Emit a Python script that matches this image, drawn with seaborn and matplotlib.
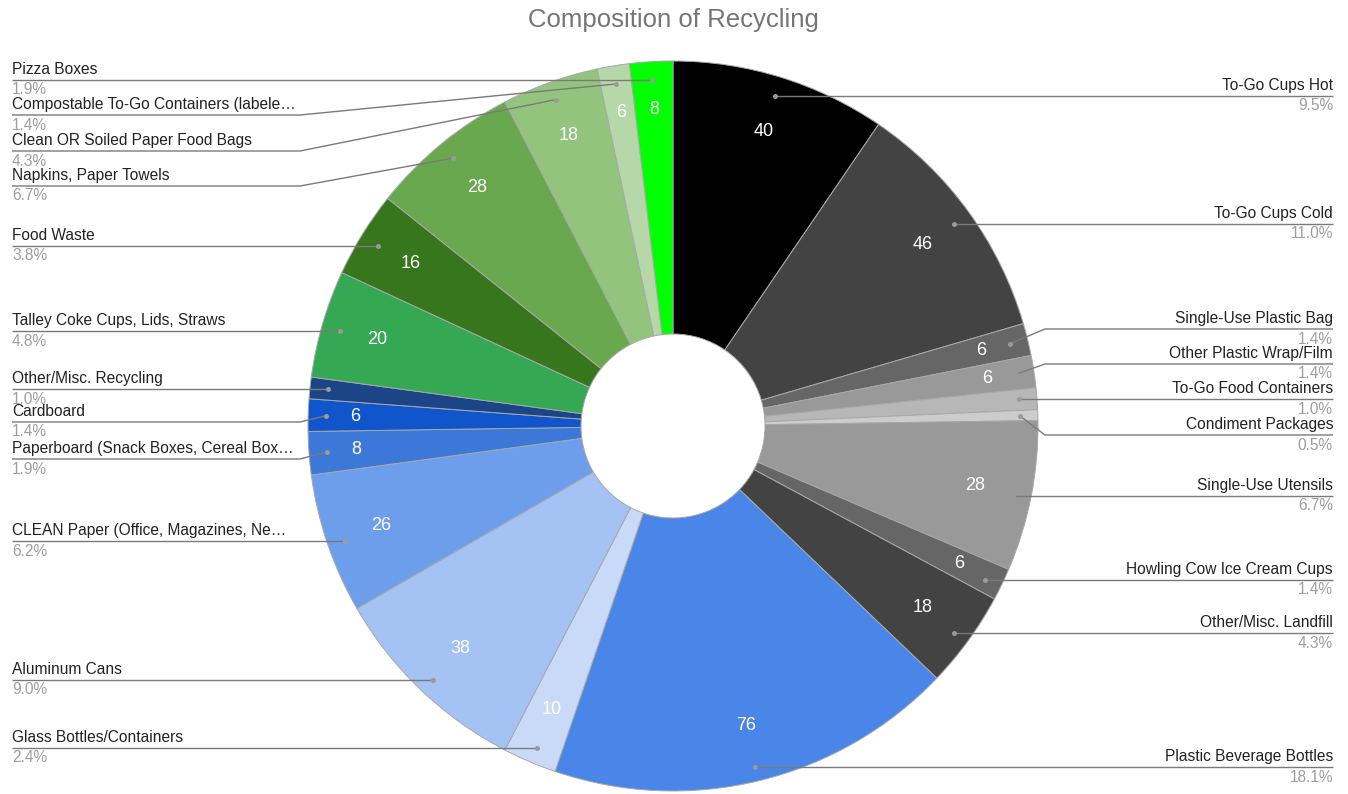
import numpy as np
import matplotlib
matplotlib.use("Agg")
import matplotlib.pyplot as plt
import seaborn as sns

# ---------------- data ----------------
categories = [
    "To-Go Cups Hot", "To-Go Cups Cold", "Single-Use Plastic Bag",
    "Other Plastic Wrap/Film", "To-Go Food Containers", "Condiment Packages",
    "Single-Use Utensils", "Howling Cow Ice Cream Cups", "Other/Misc. Landfill",
    "Plastic Beverage Bottles", "Glass Bottles/Containers", "Aluminum Cans",
    "CLEAN Paper (Office, Magazines, Ne\u2026", "Paperboard (Snack Boxes, Cereal Box\u2026",
    "Cardboard", "Other/Misc. Recycling", "Talley Coke Cups, Lids, Straws",
    "Food Waste", "Napkins, Paper Towels", "Clean OR Soiled Paper Food Bags",
    "Compostable To-Go Containers (labele\u2026", "Pizza Boxes",
]
values = [40, 46, 6, 6, 4, 2, 28, 6, 18, 76, 10, 38, 26, 8, 6, 4, 20, 16, 28, 18, 6, 8]
colors = [
    "#000000", "#434343", "#666666", "#999999", "#b7b7b7", "#cccccc",
    "#999999", "#666666", "#434343", "#4a86e8", "#c9daf8", "#a4c2f4",
    "#6d9eeb", "#3c78d8", "#1155cc", "#1c4587", "#34a853", "#38761d",
    "#6aa84f", "#93c47d", "#b6d7a8", "#00ff00",
]

# ---------------- layout ----------------
W, H = 1348, 794
CX, CY, R = 673, 426, 365          # image pixel coords
HOLE = 92
label_line_y = [96, 224, 329, 364, 399, 435, 496, 580, 633, 767,
                748, 680, 541, 459, 422, 389, 331, 246, 186, 151, 115, 80]
label_side = ["R"] * 10 + ["L"] * 12

sns.set_theme(style="white")
plt.rcParams["font.family"] = ["Liberation Sans", "DejaVu Sans"]

fig = plt.figure(figsize=(W / 100, H / 100), dpi=100)
ax = fig.add_axes([0, 0, 1, 1])

def Y(y):
    return H - y

wedges, _ = ax.pie(values, colors=colors, startangle=90, counterclock=False,
                   center=(CX, Y(CY)), radius=R, frame=True,
                   wedgeprops=dict(width=R - HOLE, edgecolor="#a8a8a8", linewidth=0.7))
ax.set_xlim(0, W)
ax.set_ylim(0, H)
ax.set_aspect("equal")
ax.axis("off")

total = float(sum(values))
cum = np.cumsum([0] + values[:-1])
line_col = "#7a7a7a"
for i, (cat, v) in enumerate(zip(categories, values)):
    mid = (cum[i] + v / 2.0) / total * 2 * np.pi
    # slice value label
    if v >= 6:
        rr = 0.845 * R if v >= 10 else 0.87 * R
        tx = CX + rr * np.sin(mid)
        ty = CY - rr * np.cos(mid)
        ax.text(tx, Y(ty), str(v), color="white", fontsize=13,
                ha="center", va="center")
    # leader dot
    rd = 0.95 * R
    dx = CX + rd * np.sin(mid)
    dy = CY - rd * np.cos(mid)
    ly = label_line_y[i]
    pct = f"{v / total * 100:.1f}%"
    if label_side[i] == "R":
        x0, bend, ha = 1333, 1045, "right"
    else:
        x0, bend, ha = 12, 300, "left"
    if abs(dy - ly) < 5:
        dy = ly
        xs, ys = [x0, dx], [Y(ly), Y(dy)]
    else:
        xs, ys = [x0, bend, dx], [Y(ly), Y(ly), Y(dy)]
    ax.plot(xs, ys, color=line_col, lw=1.0, solid_capstyle="butt", zorder=5)
    ax.plot([dx], [Y(dy)], "o", ms=3.6, color="#9a9a9a", mec="none", zorder=6)
    ax.text(x0, Y(ly - 3), cat, color="#222222", fontsize=11.2, ha=ha, va="bottom")
    ax.text(x0, Y(ly + 2.5), pct, color="#9e9e9e", fontsize=11.2, ha=ha, va="top")

ax.text(CX, Y(20), "Composition of Recycling", color="#757575", fontsize=18.5,
        ha="center", va="center")

fig.savefig("out.png", dpi=100, facecolor="white")
